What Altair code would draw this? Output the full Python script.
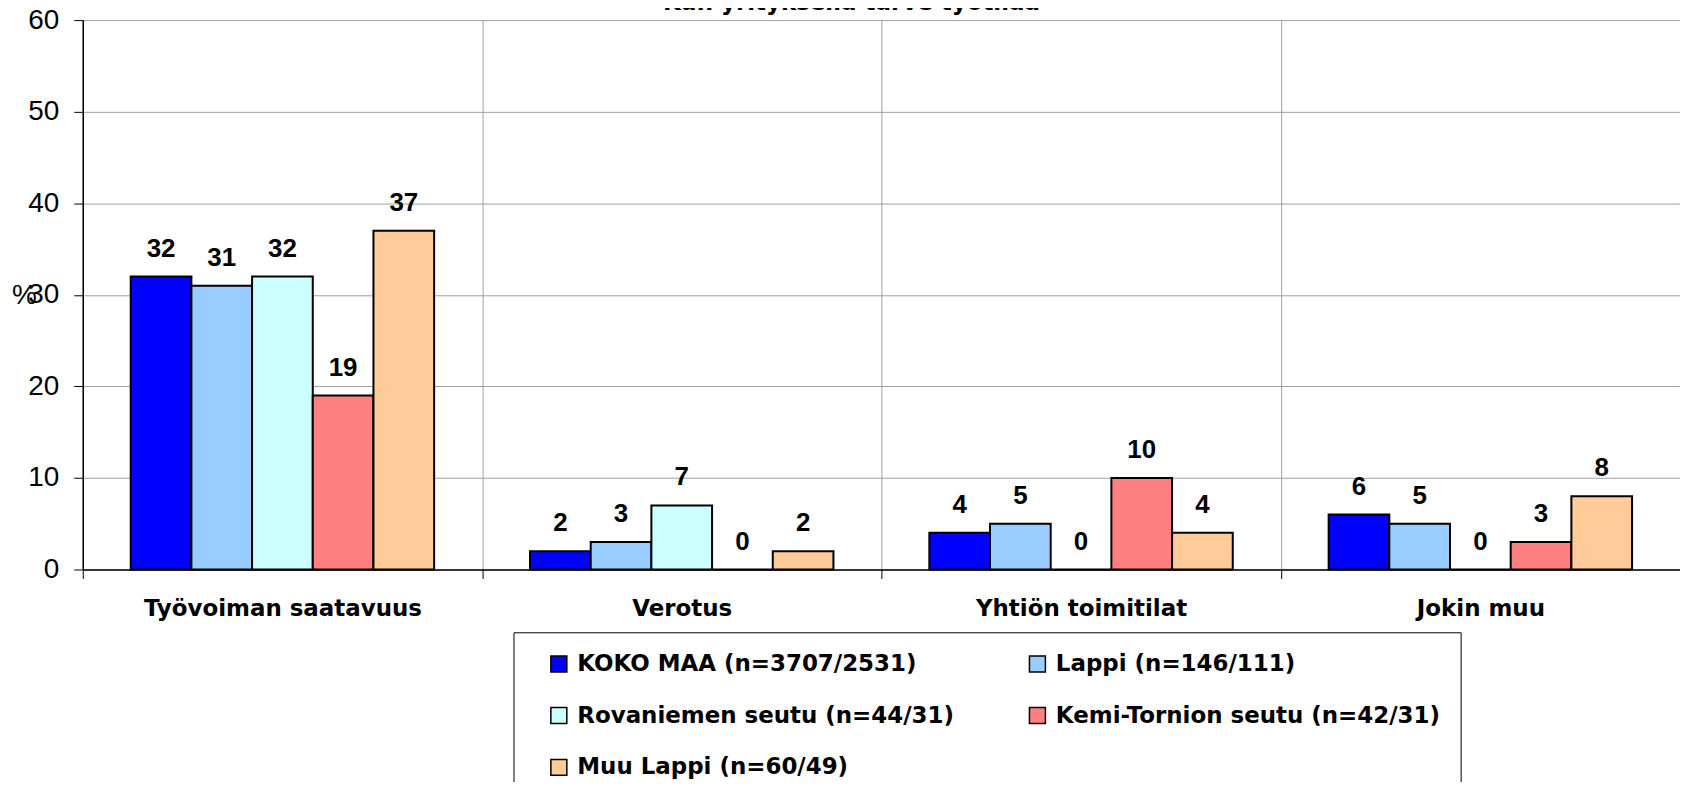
import altair as alt
import pandas as pd

categories = ["Työvoiman saatavuus", "Verotus", "Yhtiön toimitilat", "Jokin muu"]
series = ["KOKO MAA (n=3707/2531)", "Lappi (n=146/111)", "Rovaniemen seutu (n=44/31)",
          "Kemi-Tornion seutu (n=42/31)", "Muu Lappi (n=60/49)"]
colors = ["#0000FF", "#99CCFF", "#CCFFFF", "#FF8080", "#FFCC99"]
koko_maa = [32, 2, 4, 6]
lappi = [31, 3, 5, 5]
rovaniemi = [32, 7, 0, 0]
kemi_tornio = [19, 0, 10, 3]
muu_lappi = [37, 2, 4, 8]
title_text = "Kun yrityksellä tarve työtilaa"

values = [koko_maa, lappi, rovaniemi, kemi_tornio, muu_lappi]
rows = []
for s, vals in zip(series, values):
    for c, v in zip(categories, vals):
        rows.append({"kategoria": c, "sarja": s, "arvo": v})
df = pd.DataFrame(rows)

FONT = "Liberation Sans"
WIDE = "DejaVu Sans"

x = alt.X("kategoria:N", sort=categories, title=None,
          scale=alt.Scale(paddingInner=0, paddingOuter=0),
          axis=alt.Axis(tickBand="extent", grid=True, gridColor="#A0A0A0", gridWidth=1,
                        domainColor="#000000", tickColor="#000000", tickSize=9,
                        labelAngle=0, labelFont=WIDE, labelFontSize=23, labelFontWeight="bold",
                        labelColor="#000000", labelPadding=19, labelLimit=0))
xo = alt.XOffset("sarja:N", sort=series, scale=alt.Scale(paddingInner=0, paddingOuter=0.79))
y = alt.Y("arvo:Q", title="%",
          scale=alt.Scale(domain=[0, 60], nice=False),
          axis=alt.Axis(values=[0, 10, 20, 30, 40, 50, 60], grid=True, gridColor="#A0A0A0",
                        domainColor="#000000", tickColor="#000000", tickSize=9,
                        labelFont=FONT, labelFontSize=28, labelColor="#000000", labelPadding=15,
                        titleAngle=0, titleX=-59, titleY=276, titleAlign="center",
                        titleBaseline="middle", titleFont=FONT, titleFontSize=28,
                        titleFontWeight="normal", titleColor="#000000"))

color = alt.Color("sarja:N", sort=series, title=None,
                  scale=alt.Scale(domain=series, range=colors),
                  legend=alt.Legend(orient="none", legendX=432, legendY=614, columns=2,
                                    direction="horizontal",
                                    strokeColor="#000000", fillColor="#FFFFFF", padding=20,
                                    symbolType="square", symbolSize=256, symbolStrokeColor="#000000",
                                    symbolStrokeWidth=1.5, symbolOffset=14, labelOffset=7,
                                    labelFont=WIDE, labelFontSize=23, labelFontWeight="bold",
                                    labelColor="#000000", labelLimit=600,
                                    columnPadding=58, rowPadding=28))

bars = alt.Chart(df).mark_bar(stroke="#000000", strokeWidth=2).encode(
    x=x, xOffset=xo, y=y, color=color)

labels = alt.Chart(df).mark_text(font=FONT, fontSize=26, fontWeight="bold", dy=-20,
                                 baseline="alphabetic", color="#000000").encode(
    x=alt.X("kategoria:N", sort=categories), xOffset=alt.XOffset("sarja:N", sort=series),
    y="arvo:Q", text="arvo:Q")

chart = alt.layer(bars, labels).properties(
    width=1602, height=551,
    title=alt.TitleParams(title_text, anchor="middle", font=WIDE, fontSize=23,
                          fontWeight="bold", color="#000000", offset=-9, dx=-30),
    autosize=alt.AutoSizeParams(type="none"),
    padding={"left": 75, "top": 11, "right": 0, "bottom": 212},
).configure_view(stroke=None).configure_axis(domainWidth=1.5)

chart.save("out.html", embed_options={"renderer": "svg", "actions": False})
